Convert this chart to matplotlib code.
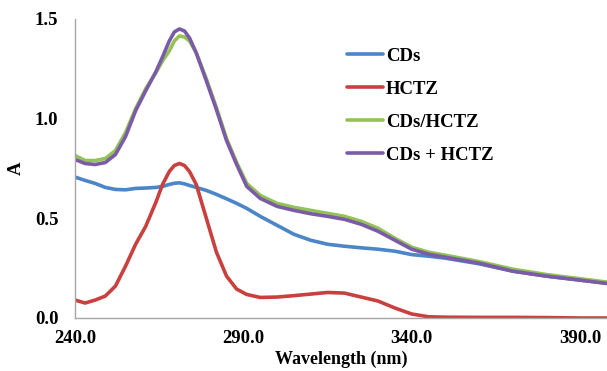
import numpy as np
import matplotlib
matplotlib.use("Agg")
import matplotlib.pyplot as plt

# wavelengths (nm)
wavelength = [240, 243, 246, 249, 252, 255, 258, 261, 264, 266, 268, 269.5,
              271, 272.5, 274, 276, 279, 282, 285, 288, 291, 295, 300, 305,
              310, 315, 320, 325, 330, 335, 340, 345, 350, 360, 370, 380, 390,
              398]

cds = [0.707, 0.690, 0.675, 0.655, 0.645, 0.643, 0.650, 0.652, 0.655, 0.660,
       0.670, 0.676, 0.678, 0.673, 0.665, 0.655, 0.640, 0.620, 0.598, 0.575,
       0.550, 0.510, 0.465, 0.420, 0.390, 0.370, 0.360, 0.352, 0.345, 0.335,
       0.318, 0.310, 0.300, 0.272, 0.235, 0.210, 0.190, 0.175]

hctz = [0.090, 0.075, 0.090, 0.110, 0.160, 0.260, 0.370, 0.460, 0.580, 0.670,
        0.735, 0.765, 0.775, 0.765, 0.735, 0.670, 0.500, 0.330, 0.210, 0.145,
        0.118, 0.103, 0.105, 0.112, 0.120, 0.128, 0.125, 0.105, 0.085, 0.050,
        0.020, 0.006, 0.004, 0.003, 0.003, 0.002, 0.000, 0.000]

cds_hctz_complex = [0.815, 0.790, 0.790, 0.800, 0.840, 0.930, 1.050, 1.150,
                    1.230, 1.290, 1.340, 1.390, 1.415, 1.410, 1.390, 1.330,
                    1.200, 1.055, 0.900, 0.780, 0.675, 0.615, 0.575, 0.555,
                    0.540, 0.525, 0.510, 0.485, 0.450, 0.400, 0.355, 0.330,
                    0.315, 0.283, 0.245, 0.218, 0.197, 0.180]

cds_plus_hctz = [0.795, 0.775, 0.770, 0.780, 0.820, 0.910, 1.040, 1.140,
                 1.235, 1.310, 1.390, 1.435, 1.450, 1.440, 1.405, 1.330,
                 1.190, 1.045, 0.890, 0.770, 0.660, 0.600, 0.560, 0.540,
                 0.523, 0.510, 0.495, 0.470, 0.435, 0.390, 0.345, 0.320,
                 0.305, 0.275, 0.235, 0.210, 0.190, 0.173]

labels = ["CDs", "HCTZ", "CDs/HCTZ", "CDs + HCTZ"]
colors = ["#4A86C8", "#C8413E", "#92C353", "#7B5BA8"]

plt.rcParams['font.family'] = ['Liberation Serif', 'DejaVu Serif']
plt.rcParams['font.weight'] = 'bold'
FS = 13.5

fig = plt.figure(figsize=(6.07, 3.71), dpi=100)
ax = fig.add_axes([0.1236, 0.1429, 0.8764, 0.8059])

for series, lab, col in zip([cds, hctz, cds_hctz_complex, cds_plus_hctz], labels, colors):
    ax.plot(wavelength, series, color=col, lw=2.6, label=lab,
            solid_capstyle='round', solid_joinstyle='round')

ax.set_xlim(240, 398)
ax.set_ylim(0, 1.5)
ax.set_xticks([240, 290, 340, 390])
ax.set_xticklabels(["240.0", "290.0", "340.0", "390.0"])
ax.set_yticks([0, 0.5, 1.0, 1.5])
ax.set_yticklabels(["0.0", "0.5", "1.0", "1.5"])
ax.tick_params(axis='both', length=0, labelsize=FS)
ax.tick_params(axis='x', pad=9)
ax.tick_params(axis='y', pad=12)

for s in ['top', 'right']:
    ax.spines[s].set_visible(False)
for s in ['left', 'bottom']:
    ax.spines[s].set_color('#A6A6A6')
    ax.spines[s].set_linewidth(1.0)

ax.set_xlabel("Wavelength (nm)", fontsize=13, fontweight='bold')
ax.xaxis.set_label_coords(0.5, -0.108)
ax.set_ylabel("A", fontsize=FS, fontweight='bold')
ax.yaxis.set_label_coords(-0.095, 0.5)

ax.legend(loc='upper left', bbox_to_anchor=(0.572, 0.872), bbox_transform=fig.transFigure,
          frameon=False, fontsize=FS, handlelength=1.9, handletextpad=0.15,
          labelspacing=0.85, borderpad=0, borderaxespad=0)

fig.savefig("out.png", dpi=100)
